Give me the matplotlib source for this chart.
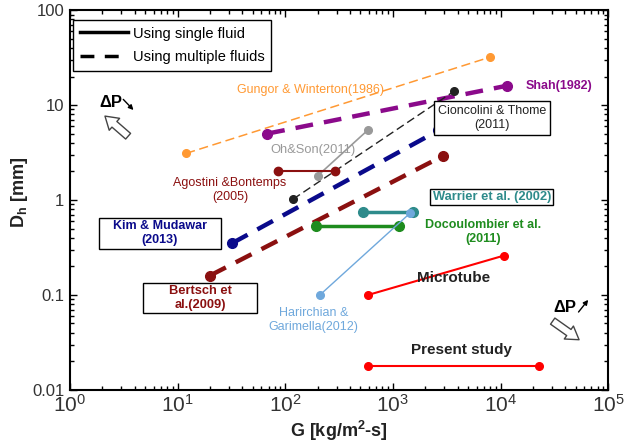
import matplotlib
matplotlib.use("Agg")
import matplotlib.pyplot as plt
from matplotlib.ticker import FixedLocator, FixedFormatter, LogLocator, NullFormatter
from matplotlib.lines import Line2D
from matplotlib.patches import Rectangle

plt.rcParams["font.family"] = ["Liberation Sans", "DejaVu Sans"]
plt.rcParams["mathtext.fontset"] = "custom"
plt.rcParams["mathtext.rm"] = "Liberation Sans"
plt.rcParams["mathtext.bf"] = "Liberation Sans:bold"

# mass flux G [kg/m2-s] and hydraulic diameter Dh [mm] ranges per study
gungor_G, gungor_D = [12, 8000], [3.1, 32]
shah_G, shah_D = [68, 11500], [5.0, 16]
cioncolini_G, cioncolini_D = [118, 3700], [1.02, 14]
ohson_G, ohson_D = [200, 590], [1.8, 5.5]
agostini_G, agostini_D = [86, 290], [2.0, 2.0]
kim_G, kim_D = [32, 2650], [0.35, 5.4]
bertsch_G, bertsch_D = [20, 2900], [0.16, 2.9]
docoulombier_G, docoulombier_D = [195, 1150], [0.53, 0.53]
warrier_G, warrier_D = [530, 1550], [0.75, 0.75]
harirchian_G, harirchian_D = [210, 1450], [0.1, 0.73]
microtube_G, microtube_D = [590, 10800], [0.1, 0.26]
present_G, present_D = [590, 23000], [0.018, 0.018]

y_ticks = [0.01, 0.1, 1, 10, 100]
y_labels = ["0.01", "0.1", "1", "10", "100"]

fig = plt.figure(figsize=(6.25, 4.42), dpi=100)
ax = fig.add_axes([0.112, 0.118, 0.861, 0.859])
ax.set_xscale("log")
ax.set_yscale("log")
ax.set_xlim(1, 1e5)
ax.set_ylim(0.01, 100)

# multiple-fluid studies (dashed)
ax.plot(gungor_G, gungor_D, "--", color="#ff9933", lw=1.1, marker="o", ms=5.5, dashes=(6, 3))
ax.plot(shah_G, shah_D, "--", color="#8b0a8b", lw=3.2, marker="o", ms=7, dashes=(4, 2.5))
ax.plot(cioncolini_G, cioncolini_D, "--", color="#222222", lw=1.0, marker="o", ms=5.5, dashes=(6, 3))
ax.plot(kim_G, kim_D, "--", color="#0a0a8b", lw=3.2, marker="o", ms=7, dashes=(4, 2.5))
ax.plot(bertsch_G, bertsch_D, "--", color="#8b1010", lw=3.2, marker="o", ms=7, dashes=(4, 2.5))
# single-fluid studies (solid)
ax.plot(ohson_G, ohson_D, "-", color="#999999", lw=1.2, marker="o", ms=5.5)
ax.plot(agostini_G, agostini_D, "-", color="#8b1010", lw=1.5, marker="o", ms=6)
ax.plot(docoulombier_G, docoulombier_D, "-", color="#1e8c1e", lw=2.5, marker="o", ms=7)
ax.plot(warrier_G, warrier_D, "-", color="#2e8b8b", lw=2.5, marker="o", ms=7)
ax.plot(harirchian_G, harirchian_D, "-", color="#6fa8dc", lw=1.0, marker="o", ms=5.5)
ax.plot(microtube_G, microtube_D, "-", color="#ff0000", lw=1.5, marker="o", ms=5.5)
ax.plot(present_G, present_D, "-", color="#ff0000", lw=1.5, marker="o", ms=5.5)

ax.yaxis.set_major_locator(FixedLocator(y_ticks))
ax.yaxis.set_major_formatter(FixedFormatter(y_labels))
ax.yaxis.set_minor_locator(LogLocator(base=10, subs=range(2, 10), numticks=20))
ax.yaxis.set_minor_formatter(NullFormatter())
ax.xaxis.set_minor_locator(LogLocator(base=10, subs=range(2, 10), numticks=20))
ax.xaxis.set_minor_formatter(NullFormatter())
ax.tick_params(which="both", direction="in", top=True, right=True, width=1.0)
ax.tick_params(which="major", length=5)
ax.tick_params(which="minor", length=3)
ax.tick_params(axis="y", labelsize=12, colors="#333333", pad=4)
ax.tick_params(axis="x", labelsize=15, colors="#333333", pad=3)
ax.tick_params(axis="both", color="black")
for sp in ax.spines.values():
    sp.set_linewidth(1.5)

ax.set_xlabel(r"G [kg/m$^\mathbf{2}$-s]", fontsize=13, fontweight="bold", color="#222222", labelpad=2)
ax.set_ylabel(r"D$_\mathbf{h}$ [mm]", fontsize=13, fontweight="bold", color="#222222")
ax.yaxis.set_label_coords(-0.074, 0.52)

handles = [Line2D([], [], color="black", lw=2.5, ls="-"),
           Line2D([], [], color="black", lw=2.5, ls=(0, (4, 3)))]
leg = ax.legend(handles, ["Using single fluid", "Using multiple fluids"], loc="upper left",
                bbox_to_anchor=(0.0056, 0.974), borderaxespad=0, fontsize=10.5,
                handlelength=3.3, handletextpad=0.35, frameon=True, fancybox=False,
                edgecolor="black", framealpha=1, borderpad=0.45, labelspacing=0.65)
leg.get_frame().set_linewidth(1.0)

tf = ax.transAxes
ax.text(0.310, 0.789, "Gungor & Winterton(1986)", transform=tf, color="#ff9933", fontsize=9, va="center")
ax.text(0.846, 0.800, "Shah(1982)", transform=tf, color="#8b0a8b", fontsize=9, fontweight="bold", va="center")
ax.text(0.784, 0.716, "Cioncolini & Thome\n(2011)", transform=tf, color="#222222", fontsize=9,
        ha="center", va="center",
        bbox=dict(boxstyle="square,pad=0.3", fc="white", ec="black", lw=1.0))
ax.text(0.372, 0.632, "Oh&Son(2011)", transform=tf, color="#999999", fontsize=9.3, va="center")
ax.text(0.297, 0.526, "Agostini &Bontemps\n(2005)", transform=tf, color="#8b1010", fontsize=9,
        ha="center", va="center")

# framed labels with wide side margins
ax.add_patch(Rectangle((0.054, 0.371), 0.227, 0.082, transform=tf, fc="white", ec="black", lw=1.0))
ax.text(0.167, 0.413, "Kim & Mudawar\n(2013)", transform=tf, color="#0a0a8b", fontsize=9,
        fontweight="bold", ha="center", va="center")
ax.add_patch(Rectangle((0.136, 0.203), 0.212, 0.079, transform=tf, fc="white", ec="black", lw=1.0))
ax.text(0.242, 0.242, "Bertsch et\nal.(2009)", transform=tf, color="#8b1010", fontsize=9.3,
        fontweight="bold", ha="center", va="center")

ax.text(0.784, 0.508, "Warrier et al. (2002)", transform=tf, color="#2e8b8b", fontsize=9.3,
        fontweight="bold", ha="center", va="center",
        bbox=dict(boxstyle="square,pad=0.18", fc="white", ec="black", lw=1.0))
ax.text(0.768, 0.416, "Docoulombier et al.\n(2011)", transform=tf, color="#1e8c1e", fontsize=9,
        fontweight="bold", ha="center", va="center")
ax.text(0.453, 0.184, "Harirchian &\nGarimella(2012)", transform=tf, color="#6fa8dc", fontsize=9,
        ha="center", va="center")
ax.text(0.712, 0.295, "Microtube", transform=tf, color="#222222", fontsize=11, fontweight="bold",
        ha="center", va="center")
ax.text(0.727, 0.105, "Present study", transform=tf, color="#222222", fontsize=11, fontweight="bold",
        ha="center", va="center")

# pressure drop direction hints
small = dict(arrowstyle="-|>", color="black", lw=1.0, mutation_scale=7, shrinkA=0, shrinkB=0)
hollow = dict(arrowstyle="simple,head_width=0.95,head_length=0.75,tail_width=0.45",
              fc="white", ec="#444444", lw=1.0, mutation_scale=12, shrinkA=0, shrinkB=0)
ax.text(0.076, 0.758, "ΔP", transform=tf, fontsize=12, fontweight="bold", ha="center", va="center")
ax.annotate("", xy=(0.118, 0.737), xytext=(0.099, 0.765), xycoords=tf, textcoords=tf, arrowprops=small)
ax.annotate("", xy=(0.065, 0.721), xytext=(0.108, 0.668), xycoords=tf, textcoords=tf, arrowprops=hollow)
ax.text(0.920, 0.218, "ΔP", transform=tf, fontsize=12, fontweight="bold", ha="center", va="center")
ax.annotate("", xy=(0.963, 0.237), xytext=(0.945, 0.205), xycoords=tf, textcoords=tf, arrowprops=small)
ax.annotate("", xy=(0.946, 0.132), xytext=(0.897, 0.181), xycoords=tf, textcoords=tf, arrowprops=hollow)

fig.savefig("out.png", dpi=100)
